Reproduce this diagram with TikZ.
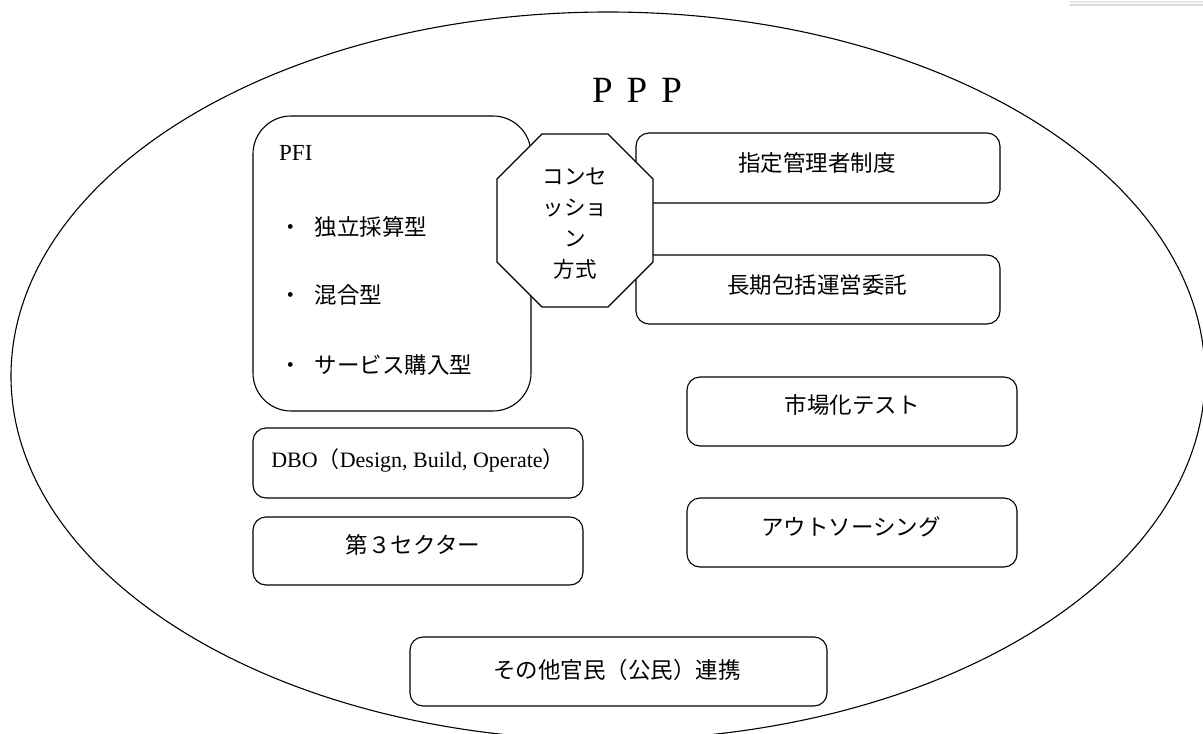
\documentclass[tikz,border=0pt]{standalone}
\usepackage{fontspec}
\setmainfont{Liberation Serif}
\newfontfamily\jp{Noto Sans CJK JP}
\begin{document}
\begin{tikzpicture}[x=1pt,y=-1pt,
  box/.style={draw,line width=1.1pt,fill=white,rounded corners=13pt,inner sep=0pt,outer sep=0pt},
  jtext/.style={font=\jp\fontsize{22.5}{27}\selectfont,inner sep=0pt},
  ltext/.style={font=\fontsize{22}{26}\selectfont,inner sep=0pt}]
\useasboundingbox (0,0) rectangle (1203,734);
\clip (0,0) rectangle (1203,734);
% faint line top right
\fill[color={rgb,255:red,228;green,234;blue,232}] (1070,0.5) rectangle (1203,3);
\fill[color={rgb,255:red,214;green,222;blue,219}] (1070,3.8) rectangle (1203,6);
% ellipse
\draw[line width=1.1pt] (608,376) ellipse [x radius=597, y radius=364];
% title
\node[font=\fontsize{37}{40}\selectfont,inner sep=0pt,anchor=base] (ppp) at (637,102) {P\kern14pt P\kern14pt P};
% PFI box
\node[box,rounded corners=38pt,minimum width=278pt,minimum height=295pt] (pfi) at (392,263.5) {};
\node[font=\fontsize{23}{26}\selectfont,inner sep=0pt,anchor=west] (pfit) at (279,153) {PFI};
\node[jtext,anchor=west] (b1) at (279,227) {・\hspace{13pt}独立採算型};
\node[jtext,anchor=west] (b2) at (279,295) {・\hspace{13pt}混合型};
\node[jtext,anchor=west] (b3) at (279,365) {・\hspace{13pt}サービス購入型};
% right boxes
\node[box,minimum width=364pt,minimum height=70pt] (shitei) at (818,168) {};
\node[jtext] (shiteit) at (817,163) {指定管理者制度};
\node[box,minimum width=364pt,minimum height=69pt] (choki) at (818,289.5) {};
\node[jtext] (chokit) at (817,285) {長期包括運営委託};
\node[box,minimum width=330pt,minimum height=69pt] (shijo) at (852,411.5) {};
\node[jtext] (shijot) at (852,405) {市場化テスト};
\node[box,minimum width=330pt,minimum height=69pt] (outs) at (852,532.5) {};
\node[jtext] (outst) at (851,527) {アウトソーシング};
% left boxes
\node[box,minimum width=330pt,minimum height=70pt] (dbo) at (418,463) {};
\node[ltext] (dbot) at (418,460) {DBO{\jp （}Design, Build, Operate{\jp ）}};
\node[box,minimum width=330pt,minimum height=68pt] (dai3) at (418,551) {};
\node[jtext] (dai3t) at (413,545) {第３セクター};
\node[box,minimum width=417pt,minimum height=69pt] (sonota) at (618.5,671.5) {};
\node[jtext] (sonotat) at (617,670) {その他官民（公民）連携};
% octagon
\draw[line width=1.1pt,fill=white] (542,134) -- (608,134) -- (653,179) -- (653,262) -- (608,307) -- (542,307) -- (497,262) -- (497,179) -- cycle;
\node[font=\jp\fontsize{21.5}{31}\selectfont,inner sep=0pt,align=center] (conc) at (575,224) {コンセ\\ッショ\\ン\\方式};
\end{tikzpicture}
\end{document}
